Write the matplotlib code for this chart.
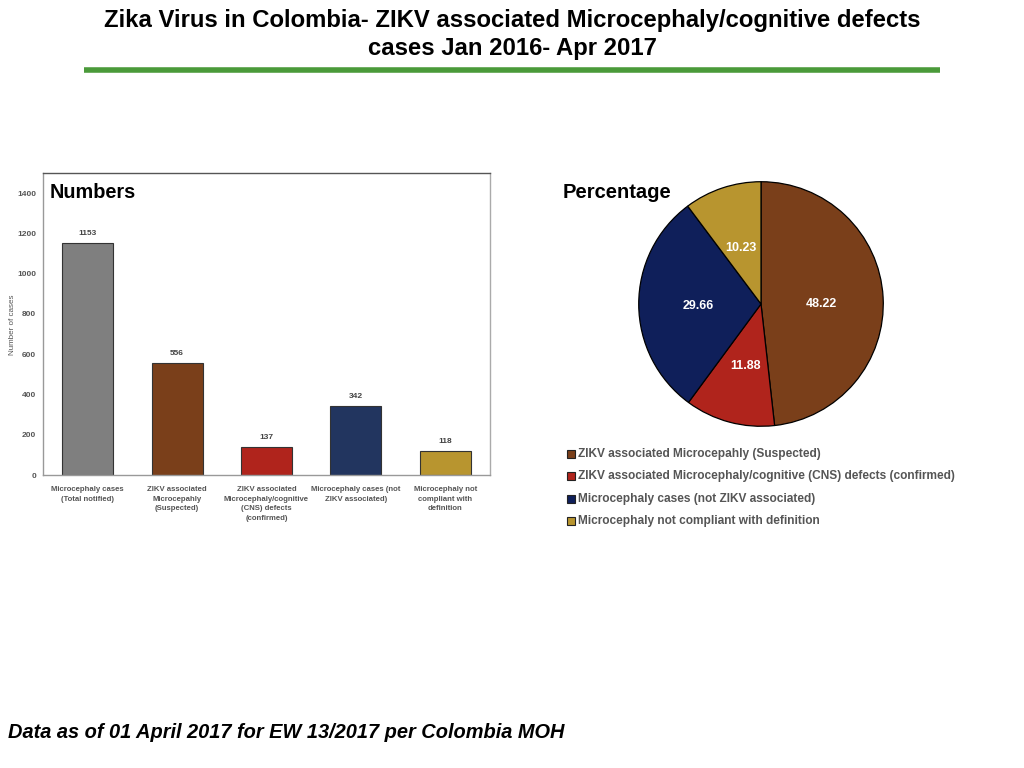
import matplotlib.pyplot as plt
import numpy as np
from matplotlib.lines import Line2D

categories = ["Microcephaly cases\n(Total notified)",
              "ZIKV associated\nMicrocepahly\n(Suspected)",
              "ZIKV associated\nMicrocephaly/cognitive\n(CNS) defects\n(confirmed)",
              "Microcephaly cases (not\nZIKV associated)",
              "Microcephaly not\ncompliant with\ndefinition"]
case_counts = [1153, 556, 137, 342, 118]
bar_colors = ["#7f7f7f", "#7a3f1a", "#b0241c", "#22355f", "#b8952f"]

pie_labels = ["ZIKV associated Microcepahly (Suspected)",
              "ZIKV associated Microcephaly/cognitive (CNS) defects (confirmed)",
              "Microcephaly cases (not ZIKV associated)",
              "Microcephaly not compliant with definition"]
pie_values = [48.22, 11.88, 29.66, 10.23]
pie_colors = ["#7a3f1a", "#b0241c", "#0f1f5a", "#b8952f"]

fig = plt.figure(figsize=(10.24, 7.68), dpi=100)

# title + green rule
narrow = ["Liberation Sans Narrow", "Liberation Sans", "DejaVu Sans"]
title_lines = ["Zika Virus in Colombia- ZIKV associated Microcephaly/cognitive defects",
               "cases Jan 2016- Apr 2017"]
for i, t in enumerate(title_lines):
    fig.text(0.5, 1 - (21 + 27*i)/768, t, ha="center", va="center", fontsize=17.2,
             fontweight="bold", fontstretch="condensed", family=narrow)
fig.add_artist(Line2D([84/1024, 940/1024], [1-70/768, 1-70/768], color="#4a9a3a", lw=4,
                      solid_capstyle="butt"))

# bar chart
ax = fig.add_axes([43/1024, 1-475/768, 447/1024, 302/768])
x = np.arange(len(case_counts))
ax.bar(x, case_counts, width=0.57, color=bar_colors, edgecolor="#333333", linewidth=0.8)
for xi, v in zip(x, case_counts):
    ax.text(xi, v + 30, str(v), ha="center", va="bottom", fontsize=6, fontweight="bold",
            color="#444444", family="Liberation Sans")
ax.set_xlim(-0.5, 4.5)
ax.set_ylim(0, 1500)
ax.set_yticks(range(0, 1401, 200))
ax.set_xticks(x)
ax.set_xticklabels(categories, fontsize=5.6, fontweight="bold", color="#555555", family="Liberation Sans",
                   va="top", linespacing=1.5)
for lbl in ax.get_yticklabels():
    lbl.set_fontsize(6)
    lbl.set_fontweight("bold")
    lbl.set_color("#555555")
    lbl.set_family("Liberation Sans")
ax.tick_params(length=0)
ax.tick_params(axis="y", pad=5)
ax.tick_params(axis="x", pad=8)
ax.set_ylabel("Number of cases", fontsize=5.8, color="#555555", family="Liberation Sans")
ax.yaxis.set_label_coords(-0.060, 0.497)
for s in ax.spines.values():
    s.set_color("#999999")
    s.set_linewidth(1)
ax.spines["top"].set_color("#555555")
ax.spines["right"].set_color("#aaaaaa")
fig.text(50/1024, 1-193/768, "Numbers", ha="left", va="center",
         fontsize=14.3, fontweight="bold", family="Liberation Sans")

# pie chart
r_px = 123.5
cx, cy = 761, 304
pax = fig.add_axes([(cx - r_px)/1024, 1-(cy + r_px)/768, 2*r_px/1024, 2*r_px/768])
pax.pie(pie_values, colors=pie_colors, startangle=90, counterclock=False,
        wedgeprops=dict(edgecolor="black", linewidth=0.9))
label_pos = [(0.49, 0.0), (-0.13, -0.51), (-0.51, -0.02), (-0.16, 0.46)]
for (lx, ly), v in zip(label_pos, pie_values):
    pax.text(lx, ly, f"{v:.2f}", ha="center", va="center", color="white", fontsize=9,
             fontweight="bold", family="Liberation Sans")
pax.set_xlim(-1.01, 1.01)
pax.set_ylim(-1.01, 1.01)
fig.text(563/1024, 1-193/768, "Percentage", ha="left", va="center", fontsize=14.5, fontweight="bold",
         family="Liberation Sans")

# legend
for i, (lab, col) in enumerate(zip(pie_labels, pie_colors)):
    yy = 1 - (454 + i*22.4)/768
    fig.patches.append(plt.Rectangle((567/1024, yy - 4/768), 8/1024, 8/768, transform=fig.transFigure,
                                     facecolor=col, edgecolor="#222222", linewidth=0.8))
    fig.text(578/1024, yy, lab, ha="left", va="center", fontsize=8.6, fontweight="bold",
             color="#555555", family="Liberation Sans")

fig.text(8/1024, 1-733/768, "Data as of 01 April 2017 for EW 13/2017 per Colombia MOH",
         ha="left", va="center", fontsize=14.4, fontweight="bold", fontstyle="italic", family="Liberation Sans")

fig.savefig("out.png", dpi=100)
